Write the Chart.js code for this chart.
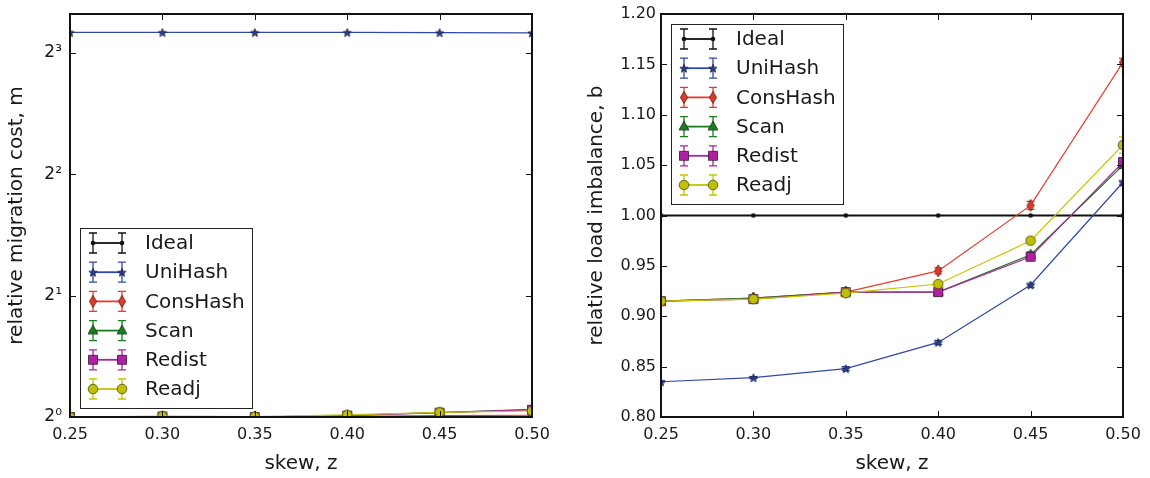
<!DOCTYPE html>
<html>
<head>
<meta charset="utf-8">
<script src="https://cdn.jsdelivr.net/npm/chart.js@4.4.1/dist/chart.umd.min.js"></script>
<style>
html, body { margin: 0; padding: 0; background: #fff; }
#wrap { position: relative; width: 1150px; height: 478px; }
canvas { position: absolute; top: 0; }
#left { left: 0; }
#right { left: 575px; }
</style>
</head>
<body>
<div id="wrap">
  <canvas id="left" width="575" height="478"></canvas>
  <canvas id="right" width="575" height="478"></canvas>
</div>
<script>
// x values (skew)
var skew = [0.25, 0.30, 0.35, 0.40, 0.45, 0.50];
var seriesNames = ["Ideal", "UniHash", "ConsHash", "Scan", "Redist", "Readj"];

// left: relative migration cost (log2 axis)
var migIdeal    = [1, 1, 1, 1, 1, 1];
var migUniHash  = [9.0, 9.0, 9.0, 9.0, 8.99, 8.98];
var migConsHash = [1.0, 1.0, 1.0, 1.004, 1.008, 1.01];
var migScan     = [1.0, 1.003, 1.0, 1.01, 1.025, 1.045];
var migRedist   = [1.0, 1.003, 1.0, 1.008, 1.025, 1.042];
var migReadj    = [1.0, 1.005, 1.002, 1.012, 1.027, 1.035];
var migTicks = [1, 2, 4, 8];
var migTickLabels = ["2\u2070", "2\u00b9", "2\u00b2", "2\u00b3"];

// right: relative load imbalance
var balIdeal    = [1, 1, 1, 1, 1, 1];
var balUniHash  = [0.835, 0.839, 0.848, 0.874, 0.931, 1.033];
var balConsHash = [0.915, 0.918, 0.924, 0.945, 1.010, 1.152];
var balScan     = [0.915, 0.918, 0.924, 0.924, 0.961, 1.050];
var balRedist   = [0.915, 0.917, 0.924, 0.924, 0.959, 1.053];
var balReadj    = [0.915, 0.917, 0.923, 0.932, 0.975, 1.070];
// error bar half-widths
var errIdeal    = [0, 0, 0, 0, 0, 0];
var errUniHash  = [0.001, 0.001, 0.002, 0.002, 0.002, 0.002];
var errConsHash = [0.002, 0.002, 0.002, 0.003, 0.004, 0.004];
var errScan     = [0.002, 0.002, 0.002, 0.002, 0.003, 0.003];
var errRedist   = [0.002, 0.002, 0.003, 0.002, 0.003, 0.004];
var errReadj    = [0.002, 0.003, 0.004, 0.002, 0.003, 0.008];
var balTicks = [0.80, 0.85, 0.90, 0.95, 1.00, 1.05, 1.10, 1.15, 1.20];

var FONT = "'DejaVu Sans', sans-serif";
var TEXT = "#1a1a1a";

function marker(shape, fill, edge, r) {
    var s = Math.ceil(r) * 2 + 4;
    var c = document.createElement("canvas");
    c.width = s; c.height = s;
    var g = c.getContext("2d");
    var m = s / 2;
    g.beginPath();
    if (shape == "dot" || shape == "circle") {
        g.arc(m, m, r, 0, Math.PI * 2);
    } else if (shape == "star") {
        for (var k = 0; k < 10; k++) {
            var rr = k % 2 ? r * 0.42 : r;
            var a = -Math.PI / 2 + k * Math.PI / 5;
            g.lineTo(m + rr * Math.cos(a), m + 0.5 + rr * Math.sin(a));
        }
        g.closePath();
    } else if (shape == "diamond") {
        g.moveTo(m, m - r); g.lineTo(m + r * 0.6, m); g.lineTo(m, m + r); g.lineTo(m - r * 0.6, m);
        g.closePath();
    } else if (shape == "triangle") {
        g.moveTo(m, m - r); g.lineTo(m + r * 0.9, m + r * 0.6); g.lineTo(m - r * 0.9, m + r * 0.6);
        g.closePath();
    } else if (shape == "square") {
        g.rect(m - r, m - r, 2 * r, 2 * r);
    }
    g.fillStyle = fill;
    g.fill();
    if (edge) { g.strokeStyle = edge; g.lineWidth = 0.8; g.stroke(); }
    return c;
}

var styles = [
    { color: "#111111", width: 2.2, mk: marker("dot", "#111111", null, 2.3) },
    { color: "#3049a6", width: 1.2, mk: marker("star", "#2a3f8c", "#1a1a40", 4.4) },
    { color: "#e63b2c", width: 1.2, mk: marker("diamond", "#e03a2a", "#5a1a10", 6) },
    { color: "#1a7d1e", width: 1.2, mk: marker("triangle", "#1a7d1e", "#103010", 5.5) },
    { color: "#ab22a0", width: 1.2, mk: marker("square", "#b020a2", "#3a1038", 4.5) },
    { color: "#c5c500", width: 1.2, mk: marker("circle", "#c0c000", "#4a4a10", 4.8) }
];

function buildSets(values, errs, idealWidth) {
    return values.map(function (vals, i) {
        var st = styles[i];
        return {
            label: seriesNames[i],
            data: skew.map(function (x, j) { return { x: x, y: vals[j] }; }),
            err: errs ? errs[i] : null,
            borderColor: st.color,
            borderWidth: i == 0 ? idealWidth : st.width,
            pointStyle: st.mk,
            pointRadius: 5,
            tension: 0,
            order: 5 - i
        };
    });
}

var errorBars = {
    id: "errorBars",
    beforeDatasetDraw: function (chart, args) {
        var ds = chart.data.datasets[args.index];
        if (!ds.err) return;
        var ys = chart.scales.y, a = chart.chartArea, ctx = chart.ctx;
        ctx.save();
        ctx.beginPath();
        ctx.rect(a.left, a.top, a.right - a.left, a.bottom - a.top);
        ctx.clip();
        ctx.strokeStyle = ds.borderColor;
        ctx.lineWidth = 1.2;
        args.meta.data.forEach(function (p, j) {
            var e = ds.err[j];
            if (!e) return;
            var y1 = ys.getPixelForValue(ds.data[j].y + e);
            var y2 = ys.getPixelForValue(ds.data[j].y - e);
            ctx.beginPath();
            ctx.moveTo(p.x, y1); ctx.lineTo(p.x, y2);
            ctx.moveTo(p.x - 4, y1); ctx.lineTo(p.x + 4, y1);
            ctx.moveTo(p.x - 4, y2); ctx.lineTo(p.x + 4, y2);
            ctx.stroke();
        });
        ctx.restore();
    }
};

var frame = {
    id: "frame",
    afterDatasetsDraw: function (chart) {
        var a = chart.chartArea, ctx = chart.ctx;
        var xs = chart.scales.x, ys = chart.scales.y;
        ctx.save();
        ctx.strokeStyle = "#111";
        ctx.lineWidth = 1;
        ctx.beginPath();
        xs.ticks.forEach(function (t) {
            var px = Math.round(xs.getPixelForValue(t.value)) + 0.5;
            ctx.moveTo(px, a.bottom); ctx.lineTo(px, a.bottom - 6);
            ctx.moveTo(px, a.top); ctx.lineTo(px, a.top + 6);
        });
        ys.ticks.forEach(function (t) {
            var py = Math.round(ys.getPixelForValue(t.value)) + 0.5;
            ctx.moveTo(a.left, py); ctx.lineTo(a.left + 6, py);
            ctx.moveTo(a.right, py); ctx.lineTo(a.right - 6, py);
        });
        ctx.stroke();
        ctx.lineWidth = 2;
        ctx.strokeRect(a.left, a.top, a.right - a.left, a.bottom - a.top);
        ctx.restore();
    }
};

var boxLegend = {
    id: "boxLegend",
    afterDraw: function (chart, args, o) {
        var a = chart.chartArea, ctx = chart.ctx;
        var x0 = Math.round(a.left + o.dx);
        var y0 = Math.round(o.fromBottom ? a.bottom - o.dy - o.h : a.top + o.dy);
        ctx.save();
        ctx.fillStyle = "#fff";
        ctx.fillRect(x0, y0, o.w, o.h);
        ctx.strokeStyle = "#222";
        ctx.lineWidth = 1;
        ctx.strokeRect(x0 + 0.5, y0 + 0.5, o.w, o.h);
        chart.data.datasets.forEach(function (ds, i) {
            var y = y0 + 15 + i * 29.2;
            var xa = x0 + 13, xb = x0 + 42;
            ctx.strokeStyle = ds.borderColor;
            ctx.lineWidth = 1.3;
            ctx.beginPath();
            [xa, xb].forEach(function (x) {
                ctx.moveTo(x, y - 10); ctx.lineTo(x, y + 10);
                ctx.moveTo(x - 4, y - 10); ctx.lineTo(x + 4, y - 10);
                ctx.moveTo(x - 4, y + 10); ctx.lineTo(x + 4, y + 10);
            });
            ctx.stroke();
            ctx.lineWidth = 1.8;
            ctx.beginPath();
            ctx.moveTo(xa, y); ctx.lineTo(xb, y);
            ctx.stroke();
            var mk = ds.pointStyle;
            ctx.drawImage(mk, xa - mk.width / 2, y - mk.height / 2);
            ctx.drawImage(mk, xb - mk.width / 2, y - mk.height / 2);
            ctx.fillStyle = TEXT;
            ctx.font = "20px " + FONT;
            ctx.textBaseline = "middle";
            ctx.textAlign = "left";
            ctx.fillText(ds.label, x0 + 65, y + 1);
        });
        ctx.restore();
    }
};

Chart.register(errorBars, frame, boxLegend);

function xAxis() {
    return {
        type: "linear",
        min: 0.25,
        max: 0.50,
        afterBuildTicks: function (s) { s.ticks = skew.map(function (v) { return { value: v }; }); },
        afterFit: function (s) { s.height = 61; },
        ticks: {
            callback: function (v) { return v.toFixed(2); },
            font: { family: FONT, size: 16 },
            color: TEXT,
            padding: 8,
            maxRotation: 0,
            autoSkip: false
        },
        grid: { display: false, drawTicks: false },
        border: { display: false },
        title: { display: true, text: "skew, z", font: { family: FONT, size: 20 }, color: TEXT, padding: { top: 0, bottom: 2 } }
    };
}

// fixed y-axis width; drop the label overhang padding so the plot box starts at y=14
function fixY(w) {
    return function (s) {
        s.width = w;
        s.paddingTop = 0;
        s.paddingBottom = 0;
    };
}

function makeChart(id, sets, yAxis, legendOpts, rightPad) {
    return new Chart(document.getElementById(id), {
        type: "line",
        data: { datasets: sets },
        options: {
            responsive: false,
            animation: false,
            devicePixelRatio: 1,
            layout: { padding: { top: 14, right: rightPad, left: 0, bottom: 0 } },
            scales: { x: xAxis(), y: yAxis },
            plugins: {
                legend: { display: false },
                tooltip: { enabled: false },
                boxLegend: legendOpts
            }
        }
    });
}

makeChart("left",
    buildSets([migIdeal, migUniHash, migConsHash, migScan, migRedist, migReadj], null, 1.5),
    {
        type: "logarithmic",
        min: 1,
        max: 10,
        afterBuildTicks: function (s) { s.ticks = migTicks.map(function (v) { return { value: v }; }); },
        afterFit: fixY(70),
        ticks: {
            callback: function (v, i) { return migTickLabels[i]; },
            font: { family: FONT, size: 17 },
            color: TEXT,
            padding: 8
        },
        grid: { display: false, drawTicks: false },
        border: { display: false },
        title: { display: true, text: "relative migration cost, m", font: { family: FONT, size: 20 }, color: TEXT, padding: 5 }
    },
    { dx: 10, dy: 9, w: 172, h: 180, fromBottom: true },
    43);

makeChart("right",
    buildSets([balIdeal, balUniHash, balConsHash, balScan, balRedist, balReadj],
              [errIdeal, errUniHash, errConsHash, errScan, errRedist, errReadj], 2.2),
    {
        type: "linear",
        min: 0.80,
        max: 1.20,
        afterBuildTicks: function (s) { s.ticks = balTicks.map(function (v) { return { value: v }; }); },
        afterFit: fixY(86),
        ticks: {
            callback: function (v) { return v.toFixed(2); },
            font: { family: FONT, size: 16 },
            color: TEXT,
            padding: 5
        },
        grid: { display: false, drawTicks: false },
        border: { display: false },
        title: { display: true, text: "relative load imbalance, b", font: { family: FONT, size: 20 }, color: TEXT, padding: 10 }
    },
    { dx: 10, dy: 10, w: 172, h: 180, fromBottom: false },
    27);
</script>
</body>
</html>
